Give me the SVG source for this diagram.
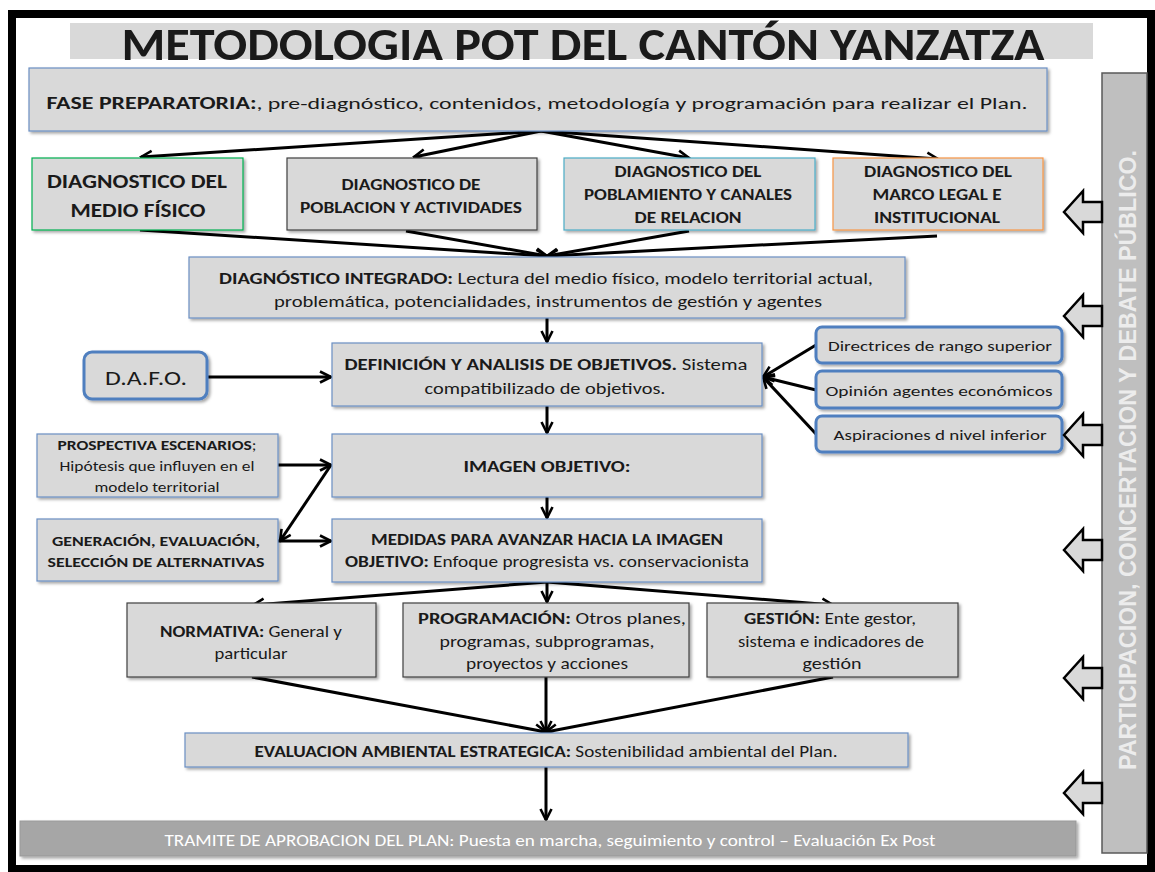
<svg xmlns="http://www.w3.org/2000/svg" width="1155" height="872" viewBox="0 0 1155 872">
<defs>
<filter id="sh" x="-5%" y="-10%" width="110%" height="130%">
<feDropShadow dx="2" dy="2" stdDeviation="1.5" flood-color="#000" flood-opacity="0.35"/>
</filter>
<marker id="ah" viewBox="0 0 14 14" refX="12.5" refY="7" markerWidth="14" markerHeight="14" markerUnits="userSpaceOnUse" orient="auto">
<path d="M1.5,1.5 L12.5,7 L1.5,12.5" fill="none" stroke="#000" stroke-width="2.6" stroke-linejoin="miter"/>
</marker>
<style>
.box{fill:#d9d9d9;stroke:#6b8fc4;stroke-width:1.2;filter:url(#sh)}
.dk{stroke:#404040}
.rb{fill:#d9d9d9;stroke:#4f7fbf;stroke-width:3;filter:url(#sh)}
.t{font-family:Carlito,Lato,"Liberation Sans",sans-serif;fill:#1a1a1a;text-anchor:middle}
.b{font-weight:bold}
.c{stroke:#000;stroke-width:3;fill:none;marker-end:url(#ah)}
.ba{fill:#d9d9d9;stroke:#000;stroke-width:2.5;stroke-linejoin:miter}
</style>
</defs>
<rect x="0" y="0" width="1155" height="872" fill="#fff"/>
<rect x="12" y="14" width="1139" height="855" fill="#fff" stroke="#000" stroke-width="8"/>

<g id="title">
<rect x="70" y="23" width="1023" height="36" fill="#d9d9d9"/>
<text class="t b" x="583" y="60" font-size="46" fill="#000" textLength="923" lengthAdjust="spacingAndGlyphs">METODOLOGIA POT DEL CANTÓN YANZATZA</text>
</g>

<g id="connectors">
<line class="c" x1="541" y1="131" x2="141" y2="157"/>
<line class="c" x1="541" y1="131" x2="414" y2="157"/>
<line class="c" x1="541" y1="131" x2="689" y2="158"/>
<line class="c" x1="541" y1="131" x2="938" y2="159"/>
<line class="c" x1="140" y1="230" x2="547" y2="256"/>
<line class="c" x1="406" y1="231" x2="547" y2="256"/>
<line class="c" x1="689" y1="231" x2="547" y2="256"/>
<line class="c" x1="937" y1="236" x2="547" y2="256"/>
<line class="c" x1="547" y1="318" x2="547" y2="342"/>
<line class="c" x1="207" y1="377" x2="331" y2="377"/>
<line class="c" x1="816" y1="345" x2="763" y2="377"/>
<line class="c" x1="816" y1="390" x2="763" y2="377"/>
<line class="c" x1="816" y1="434" x2="763" y2="377"/>
<line class="c" x1="547" y1="406" x2="547" y2="433"/>
<line class="c" x1="278" y1="465" x2="331" y2="465"/>
<line class="c" x1="331" y1="465" x2="280" y2="541"/>
<line class="c" x1="278" y1="541" x2="331" y2="541"/>
<line class="c" x1="547" y1="497" x2="547" y2="518"/>
<line class="c" x1="547" y1="582" x2="253" y2="605"/>
<line class="c" x1="547" y1="582" x2="547" y2="602"/>
<line class="c" x1="547" y1="582" x2="833" y2="605"/>
<line class="c" x1="252" y1="677" x2="546" y2="732"/>
<line class="c" x1="546" y1="677" x2="546" y2="732"/>
<line class="c" x1="833" y1="677" x2="546" y2="732"/>
<line class="c" x1="546" y1="767" x2="546" y2="820"/>
</g>

<g id="fase">
<rect class="box" x="29" y="68" width="1018" height="63"/>
<text class="t" x="537" y="109" font-size="17" textLength="981" lengthAdjust="spacingAndGlyphs"><tspan class="b">FASE PREPARATORIA:</tspan>,  pre-diagnóstico, contenidos, metodología  y programación para realizar el Plan.</text>
</g>

<g id="diag-fisico">
<rect class="box" x="32" y="158" width="211" height="72" style="stroke:#00b050"/>
<text class="t b" x="137" y="188" font-size="20" textLength="180" lengthAdjust="spacingAndGlyphs">DIAGNOSTICO DEL</text>
<text class="t b" x="138" y="217" font-size="20" textLength="135" lengthAdjust="spacingAndGlyphs">MEDIO FÍSICO</text>
</g>

<g id="diag-poblacion">
<rect class="box dk" x="287" y="158" width="250" height="72"/>
<text class="t b" x="411" y="190" font-size="15" textLength="139" lengthAdjust="spacingAndGlyphs">DIAGNOSTICO DE</text>
<text class="t b" x="411" y="213" font-size="15" textLength="222" lengthAdjust="spacingAndGlyphs">POBLACION Y ACTIVIDADES</text>
</g>

<g id="diag-poblamiento">
<rect class="box" x="564" y="158" width="251" height="72" style="stroke:#4bacc6"/>
<text class="t b" x="688" y="177" font-size="15" textLength="147" lengthAdjust="spacingAndGlyphs">DIAGNOSTICO DEL</text>
<text class="t b" x="688" y="200" font-size="15" textLength="208" lengthAdjust="spacingAndGlyphs">POBLAMIENTO Y CANALES</text>
<text class="t b" x="688" y="223" font-size="15" textLength="107" lengthAdjust="spacingAndGlyphs">DE RELACION</text>
</g>

<g id="diag-marco">
<rect class="box" x="833" y="158" width="210" height="72" style="stroke:#f79646"/>
<text class="t b" x="938" y="177" font-size="15" textLength="148" lengthAdjust="spacingAndGlyphs">DIAGNOSTICO DEL</text>
<text class="t b" x="937" y="200" font-size="15" textLength="129" lengthAdjust="spacingAndGlyphs">MARCO LEGAL E</text>
<text class="t b" x="937" y="223" font-size="15" textLength="126" lengthAdjust="spacingAndGlyphs">INSTITUCIONAL</text>
</g>

<g id="diag-integrado">
<rect class="box" x="189" y="257" width="716" height="61"/>
<text class="t" x="546" y="284" font-size="16" textLength="654" lengthAdjust="spacingAndGlyphs"><tspan class="b">DIAGNÓSTICO INTEGRADO:</tspan> Lectura del medio físico, modelo territorial actual,</text>
<text class="t" x="548" y="307" font-size="16" textLength="548" lengthAdjust="spacingAndGlyphs">problemática, potencialidades, instrumentos de gestión y agentes</text>
</g>

<g id="dafo">
<rect class="rb" x="84" y="352" width="123" height="47" rx="8"/>
<text class="t" x="146" y="385" font-size="20" textLength="82" lengthAdjust="spacingAndGlyphs">D.A.F.O.</text>
</g>

<g id="definicion">
<rect class="box" x="332" y="343" width="430" height="63"/>
<text class="t" x="546" y="370" font-size="15.5" textLength="403" lengthAdjust="spacingAndGlyphs"><tspan class="b">DEFINICIÓN Y ANALISIS DE OBJETIVOS.</tspan>  Sistema</text>
<text class="t" x="545" y="394" font-size="15.5" textLength="241" lengthAdjust="spacingAndGlyphs">compatibilizado  de objetivos.</text>
</g>

<g id="directrices">
<rect class="rb" x="816" y="327" width="246" height="36" rx="6"/>
<text class="t" x="940" y="351" font-size="15" textLength="224" lengthAdjust="spacingAndGlyphs">Directrices de rango superior</text>
</g>
<g id="opinion">
<rect class="rb" x="816" y="371" width="246" height="37" rx="6"/>
<text class="t" x="939" y="396" font-size="15" textLength="227" lengthAdjust="spacingAndGlyphs">Opinión agentes económicos</text>
</g>
<g id="aspiraciones">
<rect class="rb" x="816" y="416" width="246" height="36" rx="6"/>
<text class="t" x="940" y="440" font-size="15" textLength="213" lengthAdjust="spacingAndGlyphs">Aspiraciones d nivel inferior</text>
</g>

<g id="prospectiva">
<rect class="box" x="37" y="434" width="241" height="63"/>
<text class="t" x="157" y="450" font-size="13.5" textLength="199" lengthAdjust="spacingAndGlyphs"><tspan class="b">PROSPECTIVA ESCENARIOS</tspan>;</text>
<text class="t" x="157" y="471" font-size="13.5" textLength="195" lengthAdjust="spacingAndGlyphs">Hipótesis que influyen en el</text>
<text class="t" x="157" y="492" font-size="13.5" textLength="125" lengthAdjust="spacingAndGlyphs">modelo territorial</text>
</g>

<g id="imagen">
<rect class="box" x="332" y="434" width="430" height="63"/>
<text class="t b" x="547" y="472" font-size="16" textLength="167" lengthAdjust="spacingAndGlyphs">IMAGEN OBJETIVO:</text>
</g>

<g id="generacion">
<rect class="box" x="37" y="519" width="241" height="62"/>
<text class="t b" x="156" y="546" font-size="13.5" textLength="208" lengthAdjust="spacingAndGlyphs">GENERACIÓN, EVALUACIÓN,</text>
<text class="t b" x="156" y="567" font-size="13.5" textLength="217" lengthAdjust="spacingAndGlyphs">SELECCIÓN DE ALTERNATIVAS</text>
</g>

<g id="medidas">
<rect class="box" x="332" y="519" width="430" height="63"/>
<text class="t b" x="547" y="545" font-size="15.5" textLength="352" lengthAdjust="spacingAndGlyphs">MEDIDAS PARA AVANZAR HACIA LA IMAGEN</text>
<text class="t" x="547" y="567" font-size="15.5" textLength="404" lengthAdjust="spacingAndGlyphs"><tspan class="b">OBJETIVO:</tspan>  Enfoque progresista vs. conservacionista</text>
</g>

<g id="normativa">
<rect class="box dk" x="127" y="603" width="249" height="74"/>
<text class="t" x="251" y="637" font-size="15.5" textLength="182" lengthAdjust="spacingAndGlyphs"><tspan class="b">NORMATIVA:</tspan> General y</text>
<text class="t" x="251" y="659" font-size="15.5" textLength="73" lengthAdjust="spacingAndGlyphs">particular</text>
</g>

<g id="programacion">
<rect class="box dk" x="403" y="603" width="286" height="74"/>
<text class="t" x="552" y="624" font-size="15.5" textLength="268" lengthAdjust="spacingAndGlyphs"><tspan class="b">PROGRAMACIÓN:</tspan>  Otros planes,</text>
<text class="t" x="547" y="647" font-size="15.5" textLength="215" lengthAdjust="spacingAndGlyphs">programas, subprogramas,</text>
<text class="t" x="547" y="669" font-size="15.5" textLength="162" lengthAdjust="spacingAndGlyphs">proyectos y acciones</text>
</g>

<g id="gestion">
<rect class="box dk" x="707" y="603" width="251" height="74"/>
<text class="t" x="830" y="624" font-size="15.5" textLength="172" lengthAdjust="spacingAndGlyphs"><tspan class="b">GESTIÓN:</tspan>  Ente gestor,</text>
<text class="t" x="831" y="647" font-size="15.5" textLength="186" lengthAdjust="spacingAndGlyphs">sistema e indicadores de</text>
<text class="t" x="832" y="669" font-size="15.5" textLength="59" lengthAdjust="spacingAndGlyphs">gestión</text>
</g>

<g id="eae">
<rect class="box" x="185" y="733" width="723" height="34"/>
<text class="t" x="546" y="757" font-size="15.5" textLength="583" lengthAdjust="spacingAndGlyphs"><tspan class="b">EVALUACION AMBIENTAL ESTRATEGICA:</tspan>  Sostenibilidad ambiental del Plan.</text>
</g>

<g id="tramite">
<rect x="20" y="821" width="1056" height="35" fill="#a6a6a6" stroke="#999" stroke-width="1" filter="url(#sh)"/>
<text class="t" x="550" y="846" font-size="16" style="fill:#fff" textLength="771" lengthAdjust="spacingAndGlyphs">TRAMITE DE APROBACION DEL PLAN:  Puesta en marcha, seguimiento y control – Evaluación Ex Post</text>
</g>

<g id="participacion">
<rect x="1102" y="73" width="45" height="780" fill="#bfbfbf" stroke="#595959" stroke-width="1.5"/>
<text transform="translate(1136,460) rotate(-90)" x="0" y="0" font-family="'Liberation Sans',Arial,sans-serif" font-size="23" font-weight="bold" fill="#ececec" text-anchor="middle" textLength="620" lengthAdjust="spacingAndGlyphs">PARTICIPACION, CONCERTACION Y DEBATE PÚBLICO.</text>
</g>

<g id="block-arrows">
<polygon class="ba" points="1064,212 1083,191 1083,202 1102,202 1102,222 1083,222 1083,233"/>
<polygon class="ba" points="1064,316 1083,295 1083,306 1102,306 1102,326 1083,326 1083,337"/>
<polygon class="ba" points="1064,435 1083,414 1083,425 1102,425 1102,445 1083,445 1083,456"/>
<polygon class="ba" points="1064,550 1083,529 1083,540 1102,540 1102,560 1083,560 1083,571"/>
<polygon class="ba" points="1064,678 1083,657 1083,668 1102,668 1102,688 1083,688 1083,699"/>
<polygon class="ba" points="1064,793 1083,772 1083,783 1102,783 1102,803 1083,803 1083,814"/>
</g>
</svg>
